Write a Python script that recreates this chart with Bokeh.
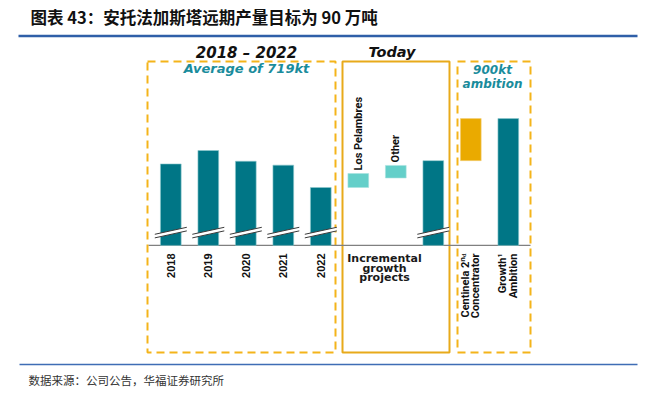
import math
from bokeh.plotting import figure
from bokeh.models import Range1d
from bokeh.core.properties import value
from bokeh.embed import file_html
from bokeh.resources import INLINE

# ---------------- data ----------------
title_text = "图表 43：安托法加斯塔远期产量目标为 90 万吨"
source_text = "数据来源：公司公告，华福证券研究所"

hist_years = ["2018", "2019", "2020", "2021", "2022"]
hist_output = [725, 770, 734, 721, 646]          # kt

growth_labels = ["Los Pelambres", "Other"]
growth_bottom = [646, 678]
growth_top = [693, 720]

incremental_total = 736
centinela_bottom = 736
centinela_top = 877
ambition_total = 877

axis_base = 452          # broken value axis starts here
break_value = 495

# ---------------- layout helpers (picture px -> data) ----------------
X0, DX = 170.3, 37.5      # slot 0 centre, slot spacing (px)
P0, V0, K = 150.0, 770.0, 3.35   # py of V0, kt per px
OFF = 0                   # canvas origin in picture px


def X(px):
    return (px - X0) / DX


def Y(py):
    return V0 - (py - P0) * K


W, H = 640, 388
p = figure(width=W, height=H, output_backend="svg", toolbar_location=None,
           x_range=Range1d(X(OFF), X(OFF + W)), y_range=Range1d(Y(OFF + H), Y(OFF)),
           min_border=0, outline_line_color=None)
p.axis.visible = False
p.grid.visible = False
p.background_fill_color = "white"
p.border_fill_color = "white"

TEAL = "#007686"
LIGHT = "#64CFC9"
ORANGE = "#EAAA00"
BOX = "#F4B41A"
TXT_TEAL = "#1A8C9C"
BAR_W = 0.553
LABEL_FONT = value("Roboto")

hist_x = list(range(len(hist_years)))
growth_x = [5, 6]
inc_x = 7
cen_x = 8
amb_x = 9

# header rule lines
p.segment(x0=[X(18)], y0=[Y(35.5)], x1=[X(637)], y1=[Y(35.5)],
          line_color="#2F5FA8", line_width=2.5)
p.segment(x0=[X(19)], y0=[Y(364)], x1=[X(637)], y1=[Y(364)],
          line_color="#3F6DB5", line_width=1.5)

p.text(x=[X(30)], y=[Y(16.5)], text=[title_text], text_font=value("Noto Sans CJK SC"),
       text_font_style="bold", text_font_size="16.5px", text_color="#111111",
       text_align="left", text_baseline="middle")
p.text(x=[X(28)], y=[Y(379)], text=[source_text], text_font=value("Noto Sans CJK SC"),
       text_font_size="11.5px", text_color="#333333",
       text_align="left", text_baseline="middle")

# boxes
p.quad(left=[X(147)], right=[X(335)], top=[Y(61)], bottom=[Y(352)], fill_color=None,
       line_color=BOX, line_width=2, line_dash="8 5")
p.quad(left=[X(342)], right=[X(449)], top=[Y(61)], bottom=[Y(352)], fill_color=None,
       line_color="#E8AA1A", line_width=2)
p.quad(left=[X(457)], right=[X(530)], top=[Y(61)], bottom=[Y(352)], fill_color=None,
       line_color=BOX, line_width=2, line_dash="8 5")

# axis line
p.segment(x0=[X(148)], y0=[axis_base], x1=[X(530)], y1=[axis_base],
          line_color="#808080", line_width=1.2)

# bars
p.vbar(x=hist_x, width=BAR_W, bottom=axis_base, top=hist_output,
       fill_color=TEAL, line_color="#8fc9cf", line_width=0.6)
p.vbar(x=growth_x, width=BAR_W, bottom=growth_bottom, top=growth_top,
       fill_color=LIGHT, line_color="#a8e3df", line_width=0.6)
p.vbar(x=[inc_x], width=BAR_W, bottom=axis_base, top=[incremental_total],
       fill_color=TEAL, line_color="#8fc9cf", line_width=0.6)
p.vbar(x=[cen_x], width=BAR_W, bottom=[centinela_bottom], top=[centinela_top],
       fill_color=ORANGE, line_color="#f3cf7a", line_width=0.6)
p.vbar(x=[amb_x], width=BAR_W, bottom=axis_base, top=[ambition_total],
       fill_color=TEAL, line_color="#8fc9cf", line_width=0.6)

# axis-break marks
hw = 16 / DX
rise = 3.5 * K
th = 1.8 * K
xs, ys, lx0, ly0, lx1, ly1 = [], [], [], [], [], []
for cx in hist_x + [inc_x]:
    xs.append([cx - hw, cx + hw, cx + hw, cx - hw])
    ys.append([break_value - rise - th, break_value + rise - th,
               break_value + rise + th, break_value - rise + th])
    for s in (-th, th):
        lx0.append(cx - hw); ly0.append(break_value - rise + s)
        lx1.append(cx + hw); ly1.append(break_value + rise + s)
p.patches(xs=xs, ys=ys, fill_color="white", line_color=None)
p.segment(x0=lx0, y0=ly0, x1=lx1, y1=ly1, line_color="#3a3a3a", line_width=1)

# header texts
p.text(x=[X(246)], y=[Y(52)], text=["2018 – 2022"], text_font=value("DejaVu Sans"),
       text_font_style="bold italic", text_font_size="15px", text_color="#111111",
       text_align="center", text_baseline="middle")
p.text(x=[X(391.5)], y=[Y(51)], text=["Today"], text_font=value("DejaVu Sans"),
       text_font_style="bold italic", text_font_size="14.5px", text_color="#111111",
       text_align="center", text_baseline="middle")
p.text(x=[X(246)], y=[Y(68)], text=["Average of 719kt"], text_font=value("DejaVu Sans"),
       text_font_style="bold italic", text_font_size="13px", text_color=TXT_TEAL,
       text_align="center", text_baseline="middle")
p.text(x=[X(492)] * 2, y=[Y(69), Y(83)], text=["900kt", "ambition"],
       text_font=value("DejaVu Sans"), text_font_style="bold italic",
       text_font_size="12px", text_color=TXT_TEAL,
       text_align="center", text_baseline="middle")

# rotated labels
p.text(x=hist_x, y=[Y(253)] * len(hist_x), text=hist_years, angle=math.pi / 2,
       text_font=value("Liberation Sans"), text_font_style="bold",
       text_font_size="11px", text_color="#111111",
       text_align="right", text_baseline="middle")
p.text(x=growth_x, y=[t + 3 * K for t in growth_top], text=growth_labels, angle=math.pi / 2,
       text_font=LABEL_FONT, text_font_style="bold", text_font_size="11px",
       text_color="#111111", text_align="left", text_baseline="middle")
p.text(x=[cen_x - 5.5 / DX, cen_x + 4.5 / DX, amb_x - 5.8 / DX, amb_x + 5.2 / DX],
       y=[Y(253)] * 4, text=["Centinela 2ⁿᵈ", "Concentrator", "Growth¹", "Ambition"],
       angle=math.pi / 2, text_font=LABEL_FONT, text_font_style="bold",
       text_font_size="11px", text_color="#111111",
       text_align="right", text_baseline="middle")

p.text(x=[X(384)] * 3, y=[Y(258), Y(267.5), Y(277)],
       text=["Incremental", "growth", "projects"], text_font=value("DejaVu Sans"),
       text_font_style="bold", text_font_size="11px", text_color="#1a1a1a",
       text_align="center", text_baseline="middle")

open("out.html", "w").write(file_html(p, INLINE))
